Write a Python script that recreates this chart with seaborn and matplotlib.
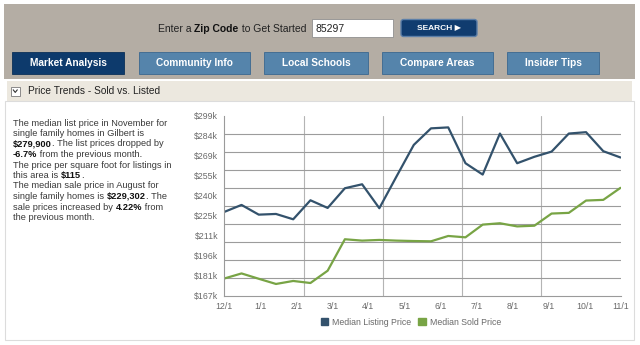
import matplotlib
matplotlib.use("Agg")
import matplotlib.pyplot as plt
import seaborn as sns
import pandas as pd
import numpy as np
from matplotlib.patches import Rectangle, Patch, FancyBboxPatch
from matplotlib.font_manager import FontProperties

# ---------------- data ----------------
month_labels = ["12/1", "1/1", "2/1", "3/1", "4/1", "5/1", "6/1", "7/1", "8/1", "9/1", "10/1", "11/1"]
y_tick_labels = ["$167k", "$181k", "$196k", "$211k", "$225k", "$240k", "$255k", "$269k", "$284k", "$299k"]
series_names = ["Median Listing Price", "Median Sold Price"]
listing_k = [228.5, 233.6, 226.5, 227.0, 223.1, 237.0, 231.4, 245.8, 248.7, 231.2, 254.5, 277.5,
             289.6, 290.3, 264.1, 255.8, 285.8, 264.1, 268.8, 272.6, 285.8, 286.8, 272.9, 268.3]
sold_k = [179.8, 183.5, 179.6, 175.8, 178.0, 176.5, 185.5, 208.5, 207.5, 208.0, 207.5, 207.2,
          207.0, 210.9, 209.9, 219.2, 220.2, 217.9, 218.4, 227.3, 227.8, 236.8, 237.3, 246.1]
y_min, y_max = 167, 299

tabs = ["Market Analysis", "Community Info", "Local Schools", "Compare Areas", "Insider Tips"]
section_title = "Price Trends - Sold vs. Listed"
zip_code = "85297"
summary_lines = [
    [("The median list price in November for", False)],
    [("single family homes in Gilbert is", False)],
    [("$279,900", True), (". The list prices dropped by", False)],
    [("-6.7%", True), (" from the previous month.", False)],
    [("The price per square foot for listings in", False)],
    [("this area is ", False), ("$115", True), (".", False)],
    [("The median sale price in August for", False)],
    [("single family homes is ", False), ("$229,302", True), (". The", False)],
    [("sale prices increased by ", False), ("4.22%", True), (" from", False)],
    [("the previous month.", False)],
]

# ---------------- style ----------------
sns.set_style("white")
plt.rcParams["font.family"] = ["Liberation Sans", "DejaVu Sans"]

W, H = 640, 345
fig = plt.figure(figsize=(W / 100, H / 100), dpi=100)

# background axes in pixel coordinates
bg = fig.add_axes([0, 0, 1, 1], zorder=0)
bg.set_xlim(0, W)
bg.set_ylim(H, 0)
bg.axis("off")

def rect(x0, y0, x1, y1, fc, ec="none", lw=0.8, z=1):
    bg.add_patch(Rectangle((x0, y0), x1 - x0, y1 - y0, facecolor=fc, edgecolor=ec, linewidth=lw, zorder=z))

# header band
rect(4, 4, 635, 79, "#b4ada4")
# search input
rect(312, 19, 393, 37, "white", "#8f8f8f", 0.6, z=2)
bg.text(316, 28.5, zip_code, fontsize=7.5, color="#222222", va="center", ha="left", zorder=3)
# search button
bg.add_patch(FancyBboxPatch((401, 19.5), 76, 17, boxstyle="round,pad=0,rounding_size=2.5",
                            facecolor="#103c6f", edgecolor="#5c7fa8", linewidth=1.0, zorder=2))
bg.text(439, 28.5, "SEARCH \u25B6", fontsize=6.0, color="white", fontweight="bold",
        va="center", ha="center", zorder=3)

# tabs
tab_x = [(12, 124), (139, 250), (264, 368), (382, 493), (507, 599)]
for i, (name, (x0, x1)) in enumerate(zip(tabs, tab_x)):
    if i == 0:
        rect(x0, 52, x1, 74, "#0d3a6c", "#0a2f58", 0.6, z=2)
    else:
        rect(x0, 52, x1, 74, "#5584ab", "#3b6890", 0.6, z=2)
    bg.text((x0 + x1) / 2, 63.5, name, fontsize=7.3, color="white", fontweight="bold",
            va="center", ha="center", zorder=3)

# section bar
rect(7, 81, 632, 101, "#ece8df")
rect(11, 87, 19.5, 95.5, "white", "#7a7a7a", 0.6, z=2)
bg.plot([13.2, 15.25, 17.3], [89.8, 92.4, 89.8], color="#333333", lw=0.8, zorder=3)
bg.text(28, 91.5, section_title, fontsize=7.3, color="#222222", va="center", ha="left", zorder=3)

# content border
rect(5, 101, 634, 340, "none", "#dcdcdc", 0.8)

# rich text drawing (advance widths measured with the renderer)
fig.canvas.draw()
renderer = fig.canvas.get_renderer()

def advance(txt, size, bold):
    fp = FontProperties(family=["Liberation Sans"], size=size, weight="bold" if bold else "normal")
    w_full, _, _ = renderer.get_text_width_height_descent("|" + txt + "|", fp, ismath=False)
    w_bars, _, _ = renderer.get_text_width_height_descent("||", fp, ismath=False)
    return w_full - w_bars

def rich(x, y, segments, size, color="#333333", bold_color="#111111"):
    cx = x
    for txt, bold in segments:
        bg.text(cx, y, txt, fontsize=size, color=bold_color if bold else color,
                fontweight="bold" if bold else "normal", va="baseline", ha="left", zorder=3)
        cx += advance(txt, size, bold)

rich(158, 31.5, [("Enter a ", False), ("Zip Code", True), (" to Get Started", False)], 7.5,
     color="#222222", bold_color="#111111")

line_y0, line_dy = 125.5, 10.5
for k, segs in enumerate(summary_lines):
    rich(13, line_y0 + k * line_dy, segs, 6.7, color="#3a3a3a", bold_color="#111111")

# ---------------- chart ----------------
ax = fig.add_axes([224.3 / W, 1 - 296 / H, (620.5 - 224.3) / W, (296 - 115.5) / H], zorder=2)
ax.patch.set_alpha(0)

n = len(listing_k)
df = pd.DataFrame({
    "idx": list(range(n)) * 2,
    "value": listing_k + sold_k,
    "series": [series_names[0]] * n + [series_names[1]] * n,
})
palette = {series_names[0]: "#33526c", series_names[1]: "#78a445"}
sns.lineplot(data=df, x="idx", y="value", hue="series", palette=palette, legend=False,
             ax=ax, linewidth=1.6)

x_max = n - 1
ax.set_xlim(0, x_max)
ax.set_ylim(y_min, y_max)

month_pos = np.linspace(0, x_max, len(month_labels))
ax.set_xticks(month_pos)
ax.set_xticklabels(month_labels)
ax.set_xticks(np.linspace(0, x_max, 6), minor=True)

ax.set_yticks(np.linspace(y_min, y_max, len(y_tick_labels)))
ax.set_yticklabels(y_tick_labels)
ax.set_yticks(np.linspace(y_min, y_max, 11), minor=True)

ax.grid(False, which="major")
ax.grid(True, which="minor", axis="y", color="#9c9c9c", linewidth=0.8)
ax.grid(True, which="minor", axis="x", color="#b4b4b4", linewidth=0.8)
ax.tick_params(axis="both", which="minor", length=0)
ax.tick_params(axis="both", which="major", length=3, width=0.7, color="#9a9a9a",
               labelsize=6.3, labelcolor="#6a6a6a", pad=1.5)
for s in ["top", "right"]:
    ax.spines[s].set_visible(False)
for s in ["left", "bottom"]:
    ax.spines[s].set_color("#9a9a9a")
    ax.spines[s].set_linewidth(0.8)
ax.set_xlabel("")
ax.set_ylabel("")

handles = [Patch(facecolor=palette[s], edgecolor=palette[s]) for s in series_names]
fig.legend(handles, series_names, loc="center", bbox_to_anchor=(411 / W, 1 - 322.5 / H),
           ncol=2, frameon=False, fontsize=6.3, labelcolor="#6a6a6a",
           handlelength=0.85, handleheight=0.85, handletextpad=0.5, columnspacing=0.8)

fig.savefig("out.png", dpi=100, facecolor="white")
